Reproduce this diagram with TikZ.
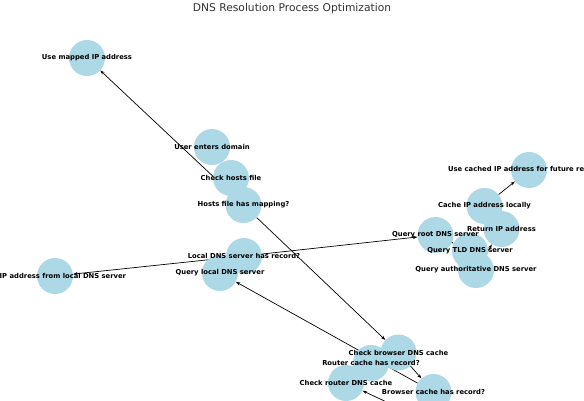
\documentclass[tikz,border=0pt]{standalone}
\usepackage{fontspec}
\setmainfont{DejaVu Sans}
\usetikzlibrary{arrows.meta}
\definecolor{nodeblue}{HTML}{ADD8E6}
\definecolor{titlegray}{HTML}{333333}
\pgfdeclarelayer{bg}
\pgfsetlayers{bg,main}
\begin{document}
\begin{tikzpicture}[x=1pt,y=-1pt,
  dot/.style={circle,fill=nodeblue,minimum size=36pt,inner sep=0pt},
  lbl/.style={font=\fontsize{6.8}{7.5}\selectfont\bfseries,inner sep=0pt},
  edge/.style={draw=black,line width=0.7pt,-{Stealth[length=4.5pt,width=3.2pt]}}]
\useasboundingbox (0,0) rectangle (584,400);
\clip (0,0) rectangle (584,400);
% circles
\node[dot] (umap)   at (87,58) {};
\node[dot] (user)   at (212,147) {};
\node[dot] (hosts)  at (231,178) {};
\node[dot] (hmap)   at (243.5,205) {};
\node[dot] (ucache) at (529,170) {};
\node[dot] (cache)  at (484.5,206) {};
\node[dot] (ret)    at (501.5,229) {};
\node[dot] (root)   at (435.5,235) {};
\node[dot] (tld)    at (470,251) {};
\node[dot] (auth)   at (476,270) {};
\node[dot] (getip)  at (55,276) {};
\node[dot] (lhas)   at (244,256) {};
\node[dot] (qlocal) at (220,273) {};
\node[dot] (cbrow)  at (398.5,352.5) {};
\node[dot] (rhas)   at (371,363) {};
\node[dot] (crout)  at (346,383) {};
\node[dot] (bhas)   at (433.5,392) {};
\coordinate (offb) at (425,420);
% edges
\begin{pgfonlayer}{bg}
\draw[edge] (hmap) -- (umap);
\draw[edge] (hmap) -- (cbrow);
\draw[edge] (lhas) -- (getip);
\draw[edge] (lhas) -- (root);
\draw[edge] (cbrow) -- (bhas);
\draw[edge] (bhas) -- (qlocal);
\draw[edge] (offb) -- (crout);
\draw[edge] (root) -- (tld);
\draw[edge] (auth) -- (ret);
\draw[edge] (cache) -- (ucache);
\end{pgfonlayer}
% labels
\node[lbl] (t-umap)   at (umap)   {Use mapped IP address};
\node[lbl] (t-user)   at (user)   {User enters domain};
\node[lbl] (t-hosts)  at (hosts)  {Check hosts file};
\node[lbl] (t-hmap)   at (hmap)   {Hosts file has mapping?};
\node[lbl] (t-ucache) at (ucache) {Use cached IP address for future requests};
\node[lbl] (t-cache)  at (cache)  {Cache IP address locally};
\node[lbl] (t-ret)    at (ret)    {Return IP address};
\node[lbl] (t-root)   at (root)   {Query root DNS server};
\node[lbl] (t-tld)    at (tld)    {Query TLD DNS server};
\node[lbl] (t-auth)   at (auth)   {Query authoritative DNS server};
\node[lbl] (t-getip)  at (getip)  {Get IP address from local DNS server};
\node[lbl] (t-lhas)   at (lhas)   {Local DNS server has record?};
\node[lbl] (t-qlocal) at (qlocal) {Query local DNS server};
\node[lbl] (t-cbrow)  at (cbrow)  {Check browser DNS cache};
\node[lbl] (t-rhas)   at (rhas)   {Router cache has record?};
\node[lbl] (t-crout)  at (crout)  {Check router DNS cache};
\node[lbl] (t-bhas)   at (bhas)   {Browser cache has record?};
\node[font=\fontsize{10.7}{12}\selectfont,text=titlegray,inner sep=0pt] (title) at (292,9) {DNS Resolution Process Optimization};
\end{tikzpicture}
\end{document}
